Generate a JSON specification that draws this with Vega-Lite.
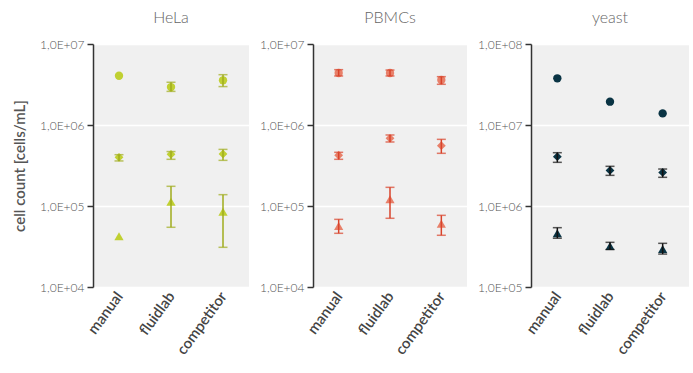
{
  "$schema": "https://vega.github.io/schema/vega-lite/v6.json",
  "padding": {"left": 12, "top": 10, "right": 5, "bottom": 5},
  "spacing": 10,
  "datasets": {
    "d": [
      {"panel": "HeLa", "method": "manual", "type": "circle", "value": 4060000, "lo": null, "hi": null},
      {"panel": "HeLa", "method": "fluidlab", "type": "circle", "value": 2940000, "lo": 2600000, "hi": 3370000},
      {"panel": "HeLa", "method": "competitor", "type": "circle", "value": 3560000, "lo": 2980000, "hi": 4180000},
      {"panel": "HeLa", "method": "manual", "type": "diamond", "value": 399000, "lo": 360000, "hi": 430000},
      {"panel": "HeLa", "method": "fluidlab", "type": "diamond", "value": 435000, "lo": 377000, "hi": 470000},
      {"panel": "HeLa", "method": "competitor", "type": "diamond", "value": 439000, "lo": 366000, "hi": 500000},
      {"panel": "HeLa", "method": "manual", "type": "triangle", "value": 42300, "lo": null, "hi": null},
      {"panel": "HeLa", "method": "fluidlab", "type": "triangle", "value": 113000, "lo": 54600, "hi": 175000},
      {"panel": "HeLa", "method": "competitor", "type": "triangle", "value": 85000, "lo": 30900, "hi": 138000},
      {"panel": "PBMCs", "method": "manual", "type": "circle", "value": 4380000, "lo": 4030000, "hi": 4820000},
      {"panel": "PBMCs", "method": "fluidlab", "type": "circle", "value": 4380000, "lo": 4030000, "hi": 4770000},
      {"panel": "PBMCs", "method": "competitor", "type": "circle", "value": 3600000, "lo": 3180000, "hi": 3950000},
      {"panel": "PBMCs", "method": "manual", "type": "diamond", "value": 423000, "lo": 377000, "hi": 460000},
      {"panel": "PBMCs", "method": "fluidlab", "type": "diamond", "value": 685000, "lo": 617000, "hi": 753000},
      {"panel": "PBMCs", "method": "competitor", "type": "diamond", "value": 556000, "lo": 447000, "hi": 665000},
      {"panel": "PBMCs", "method": "manual", "type": "triangle", "value": 56600, "lo": 46000, "hi": 68400},
      {"panel": "PBMCs", "method": "fluidlab", "type": "triangle", "value": 121000, "lo": 70500, "hi": 170000},
      {"panel": "PBMCs", "method": "competitor", "type": "triangle", "value": 60500, "lo": 43500, "hi": 76700},
      {"panel": "yeast", "method": "manual", "type": "circle", "value": 37700000, "lo": null, "hi": null},
      {"panel": "yeast", "method": "fluidlab", "type": "circle", "value": 19400000, "lo": null, "hi": null},
      {"panel": "yeast", "method": "competitor", "type": "circle", "value": 13900000, "lo": null, "hi": null},
      {"panel": "yeast", "method": "manual", "type": "diamond", "value": 4060000, "lo": 3460000, "hi": 4550000},
      {"panel": "yeast", "method": "fluidlab", "type": "diamond", "value": 2750000, "lo": 2390000, "hi": 3090000},
      {"panel": "yeast", "method": "competitor", "type": "diamond", "value": 2600000, "lo": 2260000, "hi": 2860000},
      {"panel": "yeast", "method": "manual", "type": "triangle", "value": 460000, "lo": 400000, "hi": 540000},
      {"panel": "yeast", "method": "fluidlab", "type": "triangle", "value": 320000, "lo": 290000, "hi": 356000},
      {"panel": "yeast", "method": "competitor", "type": "triangle", "value": 294000, "lo": 255000, "hi": 346000}
    ]
  },
  "hconcat": [
    {
      "title": {"text": "HeLa"},
      "width": 156,
      "height": 243,
      "data": {"name": "d"},
      "transform": [{"filter": "datum.panel === 'HeLa'"}],
      "encoding": {
        "x": {"field": "method", "type": "nominal", "sort": ["manual", "fluidlab", "competitor"], "scale": {"type": "point", "padding": 0.5}, "title": null}
      },
      "layer": [
        {
          "mark": {"type": "point", "filled": true, "opacity": 1, "color": "#c0d032"},
          "encoding": {
            "y": {"field": "value", "type": "quantitative", "scale": {"type": "log", "domain": [10000, 10000000], "nice": false}, "axis": {"values": [10000, 100000, 1000000, 10000000]}, "title": "cell count [cells/mL]"},
            "shape": {"field": "type", "type": "nominal", "scale": {"domain": ["circle", "diamond", "triangle"], "range": ["circle", "diamond", "triangle-up"]}, "legend": null},
            "size": {"field": "type", "type": "nominal", "scale": {"domain": ["circle", "diamond", "triangle"], "range": [70, 85, 95]}, "legend": null}
          }
        },
        {
          "transform": [{"filter": "isValid(datum.lo)"}],
          "mark": {"type": "rule", "color": "#a0ad1e", "strokeWidth": 1.5},
          "encoding": {"y": {"field": "lo", "type": "quantitative"}, "y2": {"field": "hi"}}
        },
        {
          "transform": [{"filter": "isValid(datum.lo)"}, {"fold": ["lo", "hi"], "as": ["end", "ev"]}],
          "mark": {"type": "tick", "color": "#a0ad1e", "size": 9, "thickness": 1.5},
          "encoding": {"y": {"field": "ev", "type": "quantitative"}}
        }
      ]
    },
    {
      "title": {"text": "PBMCs"},
      "width": 154,
      "height": 243,
      "data": {"name": "d"},
      "transform": [{"filter": "datum.panel === 'PBMCs'"}],
      "encoding": {
        "x": {"field": "method", "type": "nominal", "sort": ["manual", "fluidlab", "competitor"], "scale": {"type": "point", "padding": 0.5}, "title": null}
      },
      "layer": [
        {
          "mark": {"type": "point", "filled": true, "opacity": 1, "color": "#e8806a"},
          "encoding": {
            "y": {"field": "value", "type": "quantitative", "scale": {"type": "log", "domain": [10000, 10000000], "nice": false}, "axis": {"values": [10000, 100000, 1000000, 10000000]}, "title": null},
            "shape": {"field": "type", "type": "nominal", "scale": {"domain": ["circle", "diamond", "triangle"], "range": ["circle", "diamond", "triangle-up"]}, "legend": null},
            "size": {"field": "type", "type": "nominal", "scale": {"domain": ["circle", "diamond", "triangle"], "range": [70, 85, 95]}, "legend": null}
          }
        },
        {
          "transform": [{"filter": "isValid(datum.lo)"}],
          "mark": {"type": "rule", "color": "#d9432b", "strokeWidth": 1.5},
          "encoding": {"y": {"field": "lo", "type": "quantitative"}, "y2": {"field": "hi"}}
        },
        {
          "transform": [{"filter": "isValid(datum.lo)"}, {"fold": ["lo", "hi"], "as": ["end", "ev"]}],
          "mark": {"type": "tick", "color": "#d9432b", "size": 9, "thickness": 1.5},
          "encoding": {"y": {"field": "ev", "type": "quantitative"}}
        }
      ]
    },
    {
      "title": {"text": "yeast"},
      "width": 158,
      "height": 243,
      "data": {"name": "d"},
      "transform": [{"filter": "datum.panel === 'yeast'"}],
      "encoding": {
        "x": {"field": "method", "type": "nominal", "sort": ["manual", "fluidlab", "competitor"], "scale": {"type": "point", "padding": 0.5}, "title": null}
      },
      "layer": [
        {
          "mark": {"type": "point", "filled": true, "opacity": 1, "color": "#0a3444"},
          "encoding": {
            "y": {"field": "value", "type": "quantitative", "scale": {"type": "log", "domain": [100000, 100000000], "nice": false}, "axis": {"values": [100000, 1000000, 10000000, 100000000]}, "title": null},
            "shape": {"field": "type", "type": "nominal", "scale": {"domain": ["circle", "diamond", "triangle"], "range": ["circle", "diamond", "triangle-up"]}, "legend": null},
            "size": {"field": "type", "type": "nominal", "scale": {"domain": ["circle", "diamond", "triangle"], "range": [70, 85, 95]}, "legend": null}
          }
        },
        {
          "transform": [{"filter": "isValid(datum.lo)"}],
          "mark": {"type": "rule", "color": "#111111", "strokeWidth": 1.5},
          "encoding": {"y": {"field": "lo", "type": "quantitative"}, "y2": {"field": "hi"}}
        },
        {
          "transform": [{"filter": "isValid(datum.lo)"}, {"fold": ["lo", "hi"], "as": ["end", "ev"]}],
          "mark": {"type": "tick", "color": "#111111", "size": 9, "thickness": 1.5},
          "encoding": {"y": {"field": "ev", "type": "quantitative"}}
        }
      ]
    }
  ],
  "config": {
    "font": "Lato",
    "view": {"fill": "#f0f0f0", "stroke": null},
    "title": {"fontSize": 16, "fontWeight": 300, "color": "#666666", "offset": 12, "font": "Lato"},
    "axisY": {
      "domain": true, "domainColor": "#333333", "domainWidth": 1.5,
      "ticks": true, "tickColor": "#333333", "tickSize": 6, "tickWidth": 1.5,
      "grid": true, "gridColor": "#ffffff", "gridWidth": 1.5,
      "labelFontSize": 12, "labelFontWeight": 300, "labelColor": "#555555", "labelPadding": 3, "labelFont": "Lato",
      "labelExpr": "'1,0E+' + pad(format(round(log(datum.value)/LN10), 'd'), 2, '0', 'left')",
      "titleFontSize": 15, "titleColor": "#555555", "titleFontWeight": 600, "titlePadding": 12, "titleFont": "Lato"
    },
    "axisX": {
      "domain": false, "ticks": false, "grid": false,
      "labelAngle": -54, "labelFontSize": 15, "labelFontWeight": 600, "labelColor": "#444444", "labelPadding": 6, "labelFont": "Lato"
    }
  }
}
